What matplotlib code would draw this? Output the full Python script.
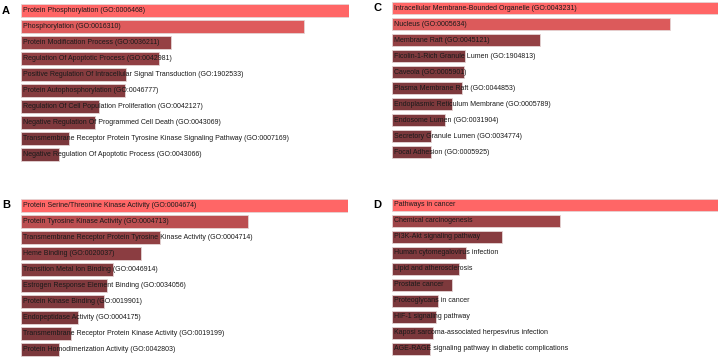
import numpy as np
import matplotlib.pyplot as plt
from matplotlib.colors import LinearSegmentedColormap

plt.rcParams['font.family'] = ['Liberation Sans', 'DejaVu Sans']

# A: GO biological process
labels_a = ['Protein Phosphorylation (GO:0006468)',
            'Phosphorylation (GO:0016310)',
            'Protein Modification Process (GO:0036211)',
            'Regulation Of Apoptotic Process (GO:0042981)',
            'Positive Regulation Of Intracellular Signal Transduction (GO:1902533)',
            'Protein Autophosphorylation (GO:0046777)',
            'Regulation Of Cell Population Proliferation (GO:0042127)',
            'Negative Regulation Of Programmed Cell Death (GO:0043069)',
            'Transmembrane Receptor Protein Tyrosine Kinase Signaling Pathway (GO:0007169)',
            'Negative Regulation Of Apoptotic Process (GO:0043066)']
scores_a = [328, 283, 150, 138, 105, 104, 78, 74, 48, 38]

# B: GO molecular function
labels_b = ['Protein Serine/Threonine Kinase Activity (GO:0004674)',
            'Protein Tyrosine Kinase Activity (GO:0004713)',
            'Transmembrane Receptor Protein Tyrosine Kinase Activity (GO:0004714)',
            'Heme Binding (GO:0020037)',
            'Transition Metal Ion Binding (GO:0046914)',
            'Estrogen Response Element Binding (GO:0034056)',
            'Protein Kinase Binding (GO:0019901)',
            'Endopeptidase Activity (GO:0004175)',
            'Transmembrane Receptor Protein Kinase Activity (GO:0019199)',
            'Protein Homodimerization Activity (GO:0042803)']
scores_b = [327, 227, 139, 120, 92, 86, 83, 57, 50, 38]

# C: GO cellular component
labels_c = ['Intracellular Membrane-Bounded Organelle (GO:0043231)',
            'Nucleus (GO:0005634)',
            'Membrane Raft (GO:0045121)',
            'Ficolin-1-Rich Granule Lumen (GO:1904813)',
            'Caveola (GO:0005901)',
            'Plasma Membrane Raft (GO:0044853)',
            'Endoplasmic Reticulum Membrane (GO:0005789)',
            'Endosome Lumen (GO:0031904)',
            'Secretory Granule Lumen (GO:0034774)',
            'Focal Adhesion (GO:0005925)']
scores_c = [326, 278, 148, 73, 72, 70, 60, 53, 39, 39]

# D: KEGG pathways
labels_d = ['Pathways in cancer',
            'Chemical carcinogenesis',
            'PI3K-Akt signaling pathway',
            'Human cytomegalovirus infection',
            'Lipid and atherosclerosis',
            'Prostate cancer',
            'Proteoglycans in cancer',
            'HIF-1 signaling pathway',
            'Kaposi sarcoma-associated herpesvirus infection',
            'AGE-RAGE signaling pathway in diabetic complications']
scores_d = [326, 168, 110, 74, 67, 60, 46, 44, 41, 38]

W, H = 719, 357
fig = plt.figure(figsize=(W / 100, H / 100), dpi=100)
cmap = LinearSegmentedColormap.from_list('enr', ['#7B383C', '#FF6666'])


def panel(letter, labels, scores, left, top, width):
    ax = fig.add_axes([left / W, 1 - (top + 160) / H, width / W, 160 / H])
    y = np.arange(len(labels))
    s = np.array(scores, dtype=float)
    t = ((s - s.min()) / (s.max() - s.min())) ** 1.7
    ax.barh(y, s, height=0.78, color=cmap(t), edgecolor='#e4d4d4', linewidth=0.6)
    for yi, lab in zip(y, labels):
        ax.text(s.max() * 1.8 / width, yi, lab, va='center', ha='left',
                fontsize=5, color='#1a1a1a')
    ax.set_xlim(0, s.max())
    ax.set_ylim(len(labels) - 0.5, -0.5)
    ax.axis('off')
    fig.text((left - 19) / W, 1 - (top + 8) / H, letter, fontsize=8,
             fontweight='bold', va='center', ha='left')


panel('A', labels_a, scores_a, 21, 2.5, 328)
panel('B', labels_b, scores_b, 21, 197.5, 327)
panel('C', labels_c, scores_c, 392, 0, 326)
panel('D', labels_d, scores_d, 392, 197, 326)

plt.savefig('out.png', dpi=100)
